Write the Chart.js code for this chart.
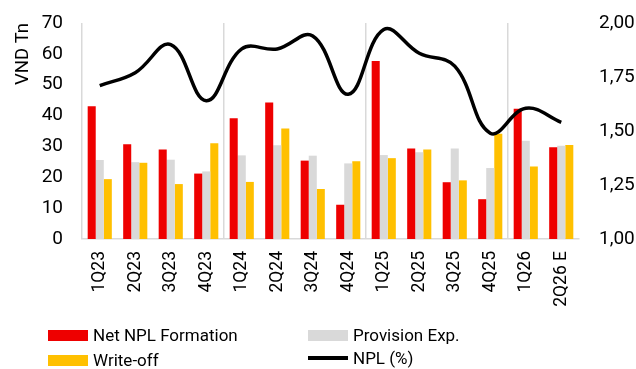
<!DOCTYPE html>
<html>
<head>
<meta charset="utf-8">
<script src="https://cdn.jsdelivr.net/npm/chart.js@4"></script>
<style>
  html, body { margin: 0; padding: 0; background: #fff; }
  #wrap { position: relative; width: 636px; height: 369px; }
  #legend { position: absolute; left: 0; top: 0; width: 636px; height: 369px; pointer-events: none;
    font-family: "Roboto", sans-serif; font-size: 17px; color: #000; }
  .item { position: absolute; display: flex; align-items: center; white-space: nowrap; }
  .box { width: 40px; height: 11px; margin-right: 5px; }
  .ln { width: 40px; height: 3.5px; margin-right: 5px; background: #000; }
</style>
</head>
<body>
<div id="wrap">
  <canvas id="myChart" width="636" height="369"></canvas>
  <div id="legend"></div>
</div>
<script>
const quarters = ["1Q23", "2Q23", "3Q23", "4Q23", "1Q24", "2Q24", "3Q24", "4Q24",
  "1Q25", "2Q25", "3Q25", "4Q25", "1Q26", "2Q26 E"];
const netNplFormation = [43.0, 30.7, 29.0, 21.2, 39.1, 44.2, 25.4, 11.1, 57.7, 29.3, 18.4, 12.9, 42.2, 29.7];
const provisionExp = [25.6, 24.9, 25.7, 21.9, 27.1, 30.4, 27.0, 24.5, 27.2, 28.1, 29.3, 23.0, 31.8, 30.2];
const writeOff = [19.4, 24.7, 17.8, 31.0, 18.5, 35.8, 16.2, 25.2, 26.2, 29.0, 19.0, 34.1, 23.5, 30.5];
const nplRatio = [1.71, 1.77, 1.90, 1.64, 1.88, 1.88, 1.94, 1.67, 1.97, 1.86, 1.80, 1.49, 1.605, 1.54];
const leftTicks = [0, 10, 20, 30, 40, 50, 60, 70];
const rightTicks = [1.00, 1.25, 1.50, 1.75, 2.00];

const RED = "#EE0000", GREY = "#D9D9D9", YELLOW = "#FFC000";
const TICK_FONT = { family: "Roboto", size: 19 };
const X_FONT = { family: "Roboto", size: 17.5 };

const data = {
  labels: quarters,
  datasets: [
    {
      type: "line",
      label: "NPL (%)",
      data: nplRatio,
      yAxisID: "y1",
      borderColor: "#000",
      borderWidth: 3.5,
      pointRadius: 0,
      tension: 0.4,
      fill: false,
      clip: false,
      order: 0,
    },
    { label: "Net NPL Formation", data: netNplFormation, backgroundColor: RED, yAxisID: "y", order: 1 },
    { label: "Provision Exp.", data: provisionExp, backgroundColor: GREY, yAxisID: "y", order: 1 },
    { label: "Write-off", data: writeOff, backgroundColor: YELLOW, yAxisID: "y", order: 1 },
  ],
};

const config = {
  type: "bar",
  data: data,
  options: {
    responsive: false,
    animation: false,
    datasets: { bar: { barPercentage: 1, categoryPercentage: 0.68 } },
    layout: { padding: { top: 23, bottom: 44, left: 0, right: 0 } },
    scales: {
      x: {
        // grey separators every 4 quarters, plus the left edge
        grid: {
          offset: true,
          drawTicks: false,
          color: (ctx) => (ctx.index % 4 === 0 && ctx.index < 14 ? "#D9D9D9" : "rgba(0,0,0,0)"),
          lineWidth: 1.5,
        },
        border: { display: true, color: "#D9D9D9", width: 1.5 },
        ticks: { font: X_FONT, color: "#000", maxRotation: 90, minRotation: 90, padding: 12 },
        afterFit: (scale) => { scale.height = 86; },
      },
      y: {
        position: "left",
        min: 0,
        max: 70,
        afterBuildTicks: (scale) => { scale.ticks = leftTicks.map((v) => ({ value: v })); },
        // invisible tick marks used as the gap between labels and the plot
        grid: { display: false, drawTicks: true, tickLength: 17, tickColor: "rgba(0,0,0,0)" },
        border: { display: false },
        ticks: { font: TICK_FONT, color: "#000", padding: 2 },
        title: {
          display: true, text: "VND Tn", font: { family: "Roboto", size: 18.5 }, color: "#000",
          align: "end", padding: { top: 12, bottom: 0 },
        },
        afterFit: (scale) => { scale.width = 82; },
      },
      y1: {
        position: "right",
        min: 1,
        max: 2,
        afterBuildTicks: (scale) => { scale.ticks = rightTicks.map((v) => ({ value: v })); },
        grid: { display: false, drawTicks: true, tickLength: 18, tickColor: "rgba(0,0,0,0)" },
        border: { display: false },
        ticks: {
          font: TICK_FONT,
          color: "#000",
          padding: 2,
          callback: (v) => v.toFixed(2).replace(".", ","),
        },
        afterFit: (scale) => { scale.width = 57; },
      },
    },
    plugins: {
      legend: { display: false },
      tooltip: { enabled: false },
    },
  },
};

const myChart = new Chart(document.getElementById("myChart"), config);

// legend laid out in two columns like the original
const legendItems = [
  { text: "Net NPL Formation", color: RED, x: 48, y: 335 },
  { text: "Provision Exp.", color: GREY, x: 308, y: 335 },
  { text: "Write-off", color: YELLOW, x: 48, y: 360 },
  { text: "NPL (%)", line: true, x: 308, y: 358 },
];
const legendEl = document.getElementById("legend");
legendItems.forEach((it) => {
  const d = document.createElement("div");
  d.className = "item";
  d.style.left = it.x + "px";
  d.style.top = it.y - 12 + "px";
  d.style.height = "24px";
  const mark = document.createElement("span");
  mark.className = it.line ? "ln" : "box";
  if (!it.line) mark.style.background = it.color;
  const t = document.createElement("span");
  t.textContent = it.text;
  d.appendChild(mark);
  d.appendChild(t);
  legendEl.appendChild(d);
});
</script>
</body>
</html>
